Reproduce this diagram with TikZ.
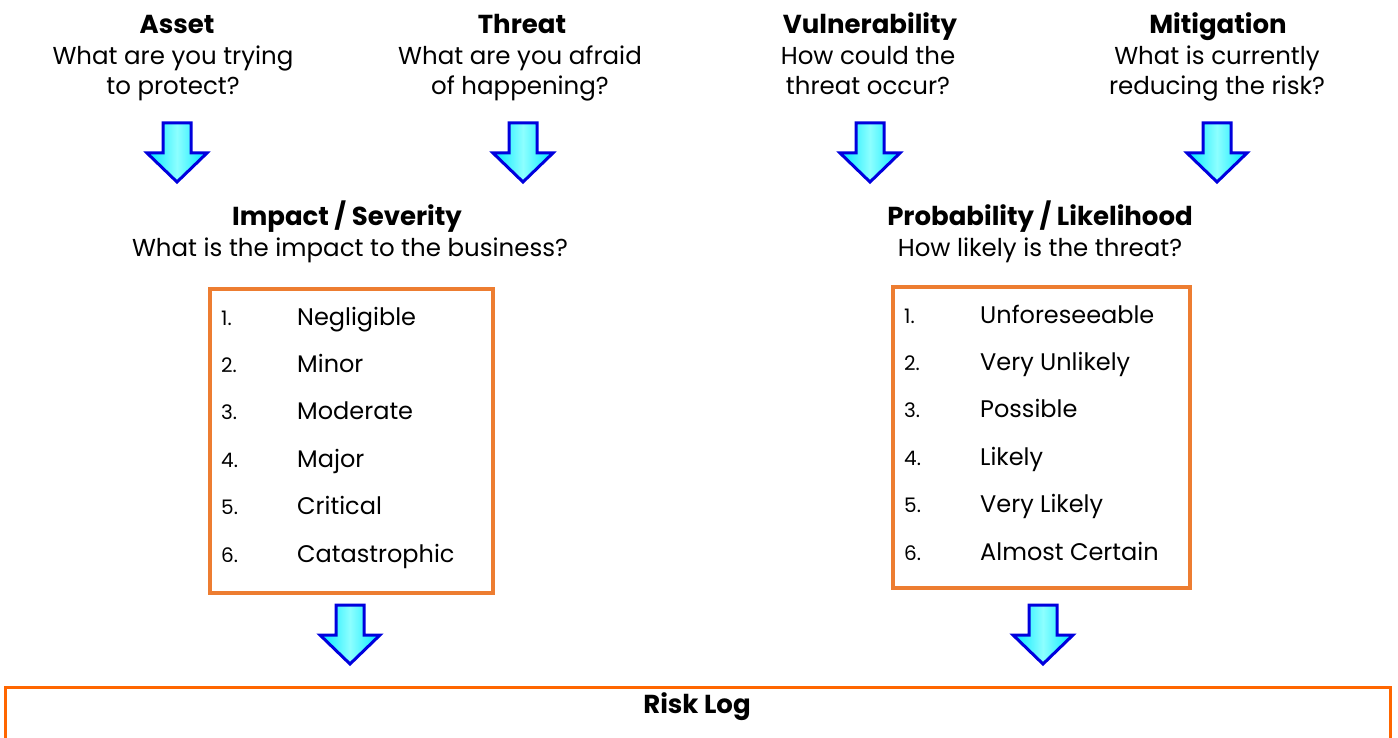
\documentclass[tikz,border=0pt]{standalone}
\usepackage{fontspec}
\setmainfont{Poppins}
\usetikzlibrary{calc}
\definecolor{boxorange}{HTML}{ED7D31}
\definecolor{logorange}{HTML}{FF6600}
\definecolor{arrowblue}{HTML}{0000DD}
\definecolor{arrowcyan}{HTML}{00E8FF}

\begin{document}
\begin{tikzpicture}[x=1pt, y=-1pt]
        \tikzset{
          head/.style={font=\fontsize{26}{30}\selectfont\bfseries, anchor=base, inner sep=0pt},
          ask/.style={font=\fontsize{24.5}{30.5}\selectfont, align=center, anchor=base, inner sep=0pt},
          num/.style={font=\fontsize{20}{24}\selectfont, anchor=base west, inner sep=0pt},
          item/.style={font=\fontsize{24}{28}\selectfont, anchor=base west, inner sep=0pt},
          listbox/.style={draw=boxorange, line width=4pt},
          downarrow/.pic={
            \path[draw=arrowblue, line width=3pt, line join=miter,
                  left color=arrowcyan, right color=arrowcyan,
                  middle color=cyan!45!white]
              (-14,0) -- (14,0) -- (14,30) -- (30,30) -- (0,59)
              -- (-30,30) -- (-14,30) -- cycle;
          }
        }
        \clip (0,0) rectangle (1398,738);

        % top questions (base = last line)
        \node[head] (asset)  at (177,34)  {Asset};
        \node[ask]  (assetq) at (173,95)  {What are you trying\\to protect?};
        \node[head] (threat) at (522,34)  {Threat};
        \node[ask]  (threatq) at (520,95) {What are you afraid\\of happening?};
        \node[head] (vuln)   at (870,34)  {Vulnerability};
        \node[ask]  (vulnq)  at (868,95)  {How could the\\threat occur?};
        \node[head] (mitig)  at (1218,34) {Mitigation};
        \node[ask]  (mitigq) at (1217,95) {What is currently\\reducing the risk?};

        \pic at (177,123)  {downarrow};
        \pic at (523,123)  {downarrow};
        \pic at (870,123)  {downarrow};
        \pic at (1217,123) {downarrow};

        % impact / probability
        \node[head] (impact) at (347,226) {Impact / Severity};
        \node[ask]  (impactq) at (350,257) {What is the impact to the business?};
        \node[head] (prob)   at (1040,226) {Probability / Likelihood};
        \node[ask]  (probq)  at (1040,257) {How likely is the threat?};

        \draw[listbox] (210,289) rectangle (493,593);
        \foreach \lbl [count=\i] in {Negligible,Minor,Moderate,Major,Critical,Catastrophic}{
          \node[num]  (impn\i) at (221,{325+47.4*(\i-1)}) {\i.};
          \node[item] (impl\i) at (297,{325+47.4*(\i-1)}) {\lbl};
        }

        \draw[listbox] (893,287) rectangle (1190,588);
        \foreach \lbl [count=\i] in {Unforeseeable,Very Unlikely,Possible,Likely,Very Likely,Almost Certain}{
          \node[num]  (prbn\i) at (904,{323+47.4*(\i-1)}) {\i.};
          \node[item] (prbl\i) at (980,{323+47.4*(\i-1)}) {\lbl};
        }

        \pic at (350,605)  {downarrow};
        \pic at (1043,605) {downarrow};

        % risk log
        \draw[logorange, line width=3pt] (5,760) -- (5,687) -- (1390,687) -- (1390,760);
        \node[head] (risklog) at (697,713) {Risk Log};
\end{tikzpicture}
\end{document}
